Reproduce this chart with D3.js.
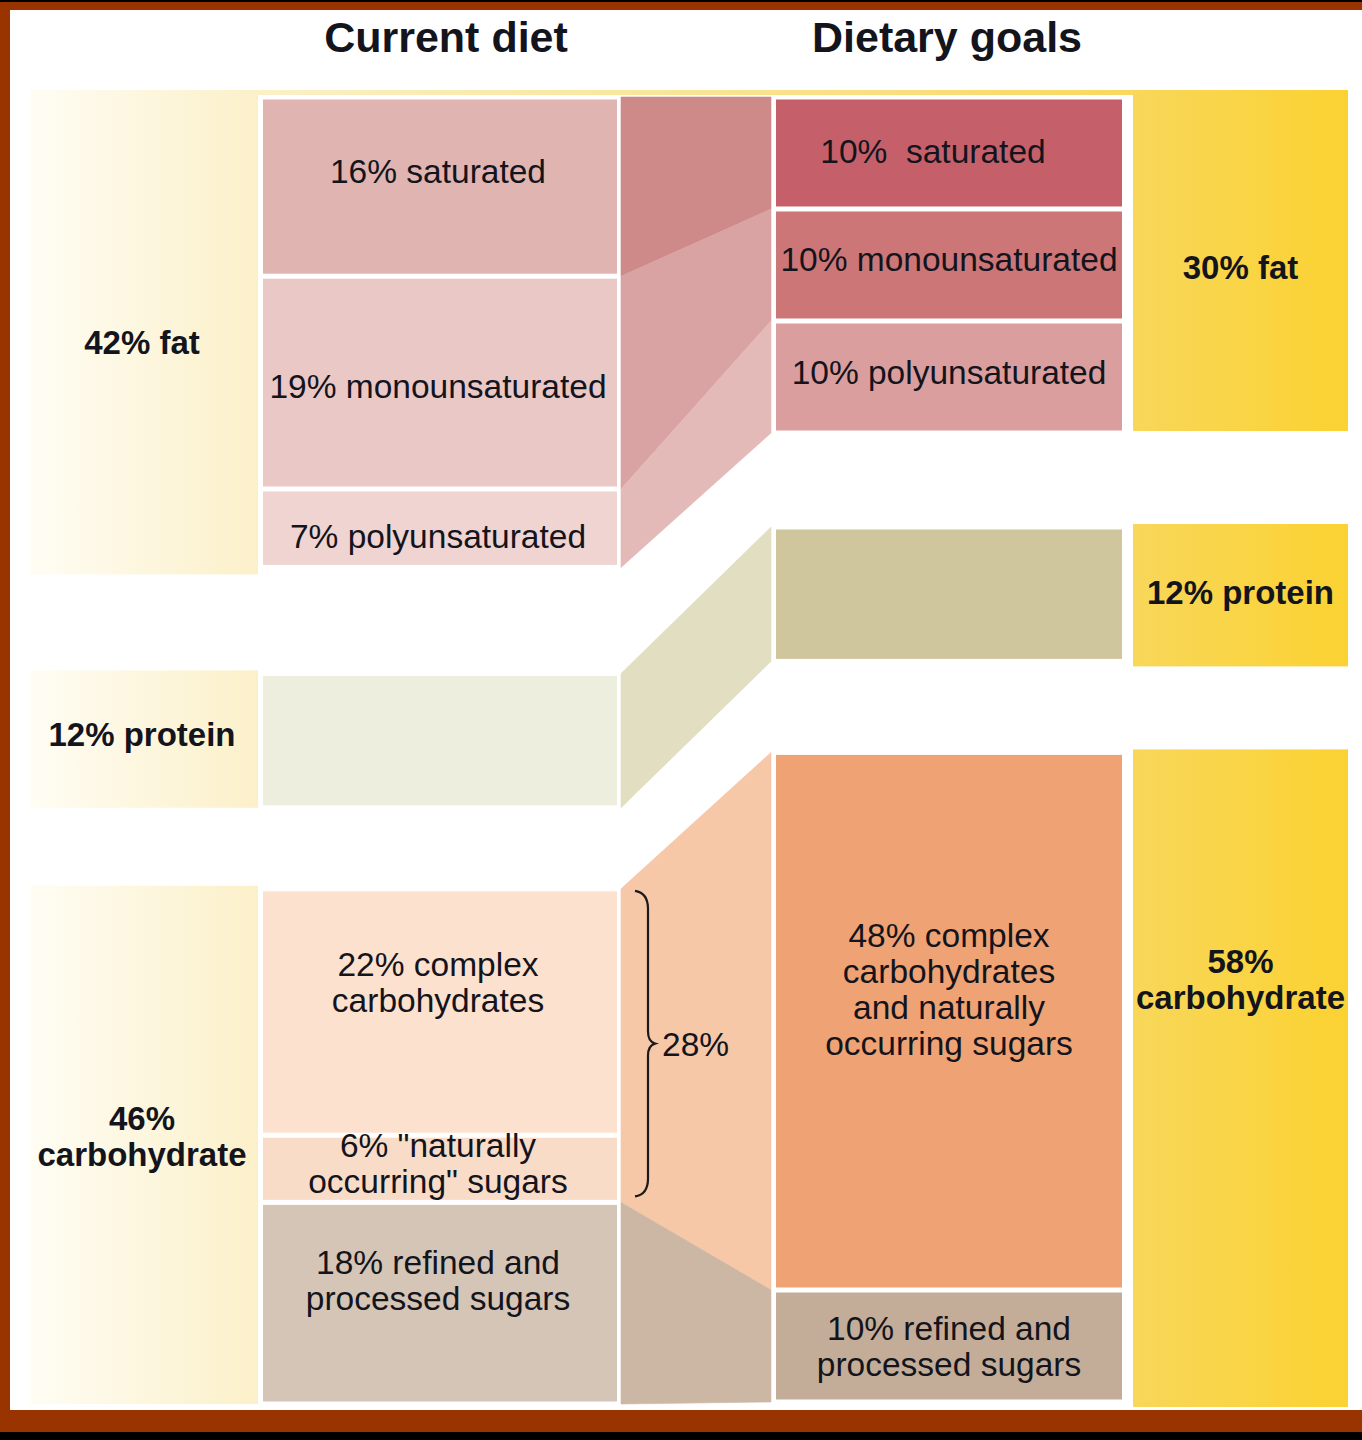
<!DOCTYPE html>
<html>
<head>
<meta charset="utf-8">
<script src="https://cdn.jsdelivr.net/npm/d3@7"></script>
<style>
  html, body { margin: 0; padding: 0; background: #000; }
  svg { display: block; }
  text { font-family: "Liberation Sans", Arial, Helvetica, sans-serif; fill: #14141c; }
</style>
</head>
<body>
<div id="chart"></div>
<script>
// ---- data ----
const categories = ["fat", "protein", "carbohydrate"];
const currentTotals = [42, 12, 46];
const goalTotals = [30, 12, 58];

const currentNames = ["saturated", "monounsaturated", "polyunsaturated", "protein", "complex", "natural", "refined"];
const currentCat = [0, 0, 0, 1, 2, 2, 2];
const currentValues = [16, 19, 7, 12, 22, 6, 18];
const currentLabels = [
    ["16% saturated"], ["19% monounsaturated"], ["7% polyunsaturated"], [],
    ["22% complex", "carbohydrates"], ['6% "naturally', 'occurring" sugars'], ["18% refined and", "processed sugars"]
];

const goalNames = ["saturated", "monounsaturated", "polyunsaturated", "protein", "complex", "refined"];
const goalCat = [0, 0, 0, 1, 2, 2];
const goalValues = [10, 10, 10, 12, 48, 10];
const goalLabels = [
    ["10%\u00a0 saturated"], ["10% monounsaturated"], ["10% polyunsaturated"], [],
    ["48% complex", "carbohydrates", "and naturally", "occurring sugars"], ["10% refined and", "processed sugars"]
];

const currentCatLabels = [["42% fat"], ["12% protein"], ["46%", "carbohydrate"]];
const goalCatLabels = [["30% fat"], ["12% protein"], ["58%", "carbohydrate"]];
const titles = ["Current diet", "Dietary goals"];

// which current segments flow into which goal segment
const flowFrom = [[0], [1], [2], [3], [4, 5], [6]];
const bracketLabel = "28%";

// ---- styles / layout ----
const currentColors = ["#e0b4b1", "#eac8c6", "#efd4d2", "#eeeedf", "#fbe1ce", "#f9dcc8", "#d5c5b6"];
const goalColors = ["#c5606a", "#cc7678", "#da9e9e", "#d0c69e", "#efa274", "#c3ad98"];
const flowColors = ["#ce8a89", "#d9a3a3", "#e4bab8", "#e2dec2", "#f6c8a8", "#ccb7a5"];

const W = 1362, H = 1440;
const cols = {
    labelL: [30, 258], current: [263, 617], flow: [621, 771], goal: [776, 1122], labelR: [1133, 1348]
};
const top0 = 97;
const currentGaps = [106, 81];
const goalGaps = [94, 91];
// vertical nudges of labels (px)
const currentNudge = [-16, 3, 8, 0, -30, -6, -23];
const goalNudge = [-2, -6, -5, 0, -32, 0];
const catNudgeL = [10, -6, -10];
const catNudgeR = [2, -2, -98];
const lineH = 36;
const fs = 33.5, fsBold = 33;

const y = d3.scaleLinear().domain([0, 100]).range([0, 1120]);

function layout(values, cats, gaps) {
    const cum = [0].concat(Array.from(d3.cumsum(values)));
    return values.map((v, i) => {
        const off = d3.sum(gaps.slice(0, cats[i]));
        return { y0: top0 + off + y(cum[i]), y1: top0 + off + y(cum[i + 1]), cat: cats[i] };
    });
}
const curSeg = layout(currentValues, currentCat, currentGaps);
const goalSeg = layout(goalValues, goalCat, goalGaps);

function catExtent(segs, c) {
    const s = segs.filter(d => d.cat === c);
    return [d3.min(s, d => d.y0), d3.max(s, d => d.y1)];
}

const svg = d3.select("#chart").append("svg").attr("width", W).attr("height", H);

// frame
svg.append("rect").attr("width", W).attr("height", H).attr("fill", "#000");
svg.append("rect").attr("x", 0).attr("y", 2).attr("width", W).attr("height", 1430).attr("fill", "#993300");
svg.append("rect").attr("x", 10).attr("y", 10).attr("width", W - 10).attr("height", 1400).attr("fill", "#fff");

const defs = svg.append("defs");
const gL = defs.append("linearGradient").attr("id", "gradL");
gL.append("stop").attr("offset", "0%").attr("stop-color", "#fffdf4");
gL.append("stop").attr("offset", "100%").attr("stop-color", "#fbf0c9");
const gR = defs.append("linearGradient").attr("id", "gradR");
gR.append("stop").attr("offset", "0%").attr("stop-color", "#f8d75a");
gR.append("stop").attr("offset", "100%").attr("stop-color", "#fbd232");
const gT = defs.append("linearGradient").attr("id", "gradT");
gT.append("stop").attr("offset", "0%").attr("stop-color", "#fbf0c8");
gT.append("stop").attr("offset", "100%").attr("stop-color", "#f8d860");

// titles
svg.selectAll("text.title")
    .data(titles)
    .enter()
    .append("text")
    .attr("class", "title")
    .attr("x", (d, i) => i === 0 ? (cols.current[0] + cols.current[1]) / 2 + 6 : (cols.goal[0] + cols.goal[1]) / 2 - 2)
    .attr("y", 52)
    .attr("text-anchor", "middle")
    .attr("font-size", 43)
    .attr("font-weight", "bold")
    .text(d => d);

// thin yellow strip along top of the fat band
svg.append("rect")
    .attr("x", cols.labelL[1]).attr("y", top0 - 7)
    .attr("width", cols.labelR[0] - cols.labelL[1]).attr("height", 5)
    .attr("fill", "url(#gradT)");

// category label columns
const catL = categories.map((c, i) => catExtent(curSeg, i));
const catR = categories.map((c, i) => catExtent(goalSeg, i));

svg.append("g").selectAll("rect")
    .data(catL)
    .enter()
    .append("rect")
    .attr("x", cols.labelL[0])
    .attr("y", (d, i) => d[0] - (i === 0 ? 7 : 3))
    .attr("width", cols.labelL[1] - cols.labelL[0])
    .attr("height", (d, i) => d[1] - d[0] + (i === 0 ? 14 : 3))
    .attr("fill", "url(#gradL)");

svg.append("g").selectAll("rect")
    .data(catR)
    .enter()
    .append("rect")
    .attr("x", cols.labelR[0])
    .attr("y", (d, i) => d[0] - (i === 0 ? 7 : 3))
    .attr("width", cols.labelR[1] - cols.labelR[0])
    .attr("height", (d, i) => d[1] - d[0] + (i === 0 ? 5 : 8))
    .attr("fill", "url(#gradR)");

// connectors
const flows = flowFrom.map((src, j) => ({
    yL0: curSeg[src[0]].y0, yL1: curSeg[src[src.length - 1]].y1,
    yR0: goalSeg[j].y0, yR1: goalSeg[j].y1, color: flowColors[j]
}));
svg.append("g").selectAll("path")
    .data(flows)
    .enter()
    .append("path")
    .attr("d", d => {
        const p = d3.path();
        p.moveTo(cols.flow[0], d.yL0);
        p.lineTo(cols.flow[1], d.yR0);
        p.lineTo(cols.flow[1], d.yR1);
        p.lineTo(cols.flow[0], d.yL1);
        p.closePath();
        return p.toString();
    })
    .attr("fill", d => d.color)
    .attr("stroke", d => d.color)
    .attr("stroke-width", 0.6);

// segment boxes
function segRects(segs, colors, x) {
    svg.append("g").selectAll("rect")
        .data(segs)
        .enter()
        .append("rect")
        .attr("x", x[0])
        .attr("y", d => d.y0 + 2.5)
        .attr("width", x[1] - x[0])
        .attr("height", d => d.y1 - d.y0 - 5)
        .attr("fill", (d, i) => colors[i]);
}
segRects(curSeg, currentColors, cols.current);
segRects(goalSeg, goalColors, cols.goal);

function multiLine(g, lines, cx, cy, size, weight) {
    const n = lines.length;
    lines.forEach((t, k) => {
        g.append("text")
            .attr("x", cx)
            .attr("y", cy + (k - (n - 1) / 2) * lineH)
            .attr("dy", "0.36em")
            .attr("text-anchor", "middle")
            .attr("font-size", size)
            .attr("font-weight", weight)
            .style("white-space", "pre")
            .text(t);
    });
}

const labelsG = svg.append("g");
curSeg.forEach((d, i) => multiLine(labelsG, currentLabels[i], (cols.current[0] + cols.current[1]) / 2 - 2,
    (d.y0 + d.y1) / 2 + currentNudge[i], fs, "normal"));
goalSeg.forEach((d, i) => multiLine(labelsG, goalLabels[i], (cols.goal[0] + cols.goal[1]) / 2 - (i === 0 ? 16 : 0),
    (d.y0 + d.y1) / 2 + goalNudge[i], fs, "normal"));
catL.forEach((d, i) => multiLine(labelsG, currentCatLabels[i], (cols.labelL[0] + cols.labelL[1]) / 2 - 2,
    (d[0] + d[1]) / 2 + catNudgeL[i], fsBold, "bold"));
catR.forEach((d, i) => multiLine(labelsG, goalCatLabels[i], (cols.labelR[0] + cols.labelR[1]) / 2,
    (d[0] + d[1]) / 2 + catNudgeR[i], fsBold, "bold"));

// curly bracket over the complex + natural sugars (current)
const bTop = curSeg[4].y0 + 2, bBot = curSeg[5].y1 - 6, bMid = (bTop + bBot) / 2;
const bx = cols.flow[0] + 14;
const br = d3.path();
br.moveTo(bx, bTop);
br.quadraticCurveTo(bx + 13, bTop + 2, bx + 13, bTop + 18);
br.lineTo(bx + 13, bMid - 12);
br.quadraticCurveTo(bx + 13, bMid - 2, bx + 20, bMid);
br.quadraticCurveTo(bx + 13, bMid + 2, bx + 13, bMid + 12);
br.lineTo(bx + 13, bBot - 18);
br.quadraticCurveTo(bx + 13, bBot - 2, bx, bBot);
svg.append("path")
    .attr("d", br.toString())
    .attr("fill", "none")
    .attr("stroke", "#1a1a1a")
    .attr("stroke-width", 2.2);
svg.append("text")
    .attr("x", bx + 27)
    .attr("y", bMid)
    .attr("dy", "0.36em")
    .attr("font-size", fs)
    .text(bracketLabel);
</script>
</body>
</html>
